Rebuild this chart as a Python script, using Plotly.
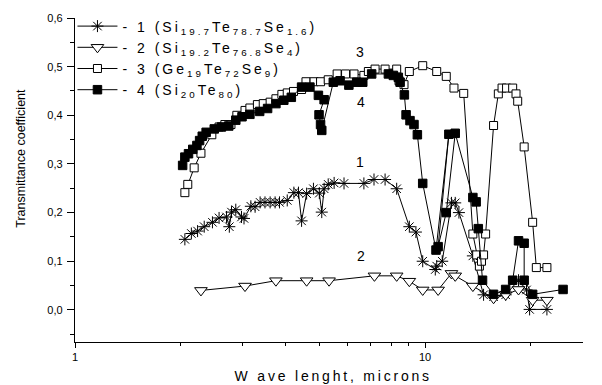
import numpy as np
import plotly.graph_objects as go

# ---- data ----
s1_x = [2.06, 2.15, 2.24, 2.34, 2.47, 2.58, 2.71, 2.76, 2.80, 2.88, 2.99, 3.04, 3.18, 3.27,
        3.38, 3.49, 3.61, 3.73, 3.84, 4.04, 4.22, 4.35, 4.44, 4.59, 4.80, 4.99, 5.07, 5.15,
        5.29, 5.50, 5.87, 6.69, 7.15, 7.69, 8.30, 9.02, 9.42, 9.85, 10.7, 10.8, 11.2, 11.9,
        12.2, 12.5, 13.7, 14.7, 15.7, 17.0, 18.5, 19.5, 19.9, 22.3]
s1_y = [0.145, 0.157, 0.162, 0.171, 0.180, 0.189, 0.191, 0.171, 0.201, 0.206, 0.191, 0.188, 0.213, 0.212,
        0.221, 0.221, 0.221, 0.221, 0.221, 0.225, 0.241, 0.241, 0.183, 0.239, 0.249, 0.240, 0.201, 0.249,
        0.258, 0.261, 0.260, 0.260, 0.268, 0.268, 0.249, 0.171, 0.160, 0.100, 0.083, 0.090, 0.100, 0.220,
        0.220, 0.200, 0.111, 0.031, 0.027, 0.031, 0.061, 0.041, 0.001, 0.001]

s2_x = [2.29, 3.06, 3.75, 4.59, 5.32, 7.17, 8.30, 9.02, 9.85, 10.9, 11.9, 12.2, 13.7, 15.7,
        17.0, 18.5, 20.3, 22.3]
s2_y = [0.040, 0.049, 0.060, 0.060, 0.060, 0.070, 0.070, 0.059, 0.041, 0.041, 0.075, 0.070, 0.049, 0.024,
        0.031, 0.042, 0.020, 0.020]

s3_x = [2.06, 2.10, 2.19, 2.29, 2.46, 2.58, 2.68, 2.79, 2.90, 3.06, 3.16, 3.32, 3.45, 3.61,
        3.75, 3.90, 4.04, 4.21, 4.44, 4.57, 4.82, 5.03, 5.29, 5.61, 5.93, 6.27, 6.69, 6.89,
        7.20, 7.69, 8.30, 8.43, 8.71, 9.02, 9.85, 10.8, 11.5, 12.1, 12.9, 13.7, 14.05, 14.3,
        14.5, 14.7, 14.9, 15.7, 16.2, 16.6, 17.1, 17.8, 18.2, 18.4, 19.2, 20.3, 20.8, 22.3]
s3_y = [0.241, 0.258, 0.292, 0.322, 0.360, 0.376, 0.381, 0.381, 0.400, 0.410, 0.415, 0.422, 0.424, 0.427,
        0.434, 0.443, 0.446, 0.449, 0.453, 0.469, 0.469, 0.469, 0.473, 0.485, 0.485, 0.485, 0.482, 0.490,
        0.495, 0.495, 0.495, 0.471, 0.463, 0.490, 0.502, 0.490, 0.480, 0.456, 0.445, 0.156, 0.113, 0.090,
        0.100, 0.113, 0.156, 0.379, 0.444, 0.456, 0.456, 0.456, 0.444, 0.429, 0.335, 0.180, 0.087, 0.087]

s4_x = [2.03, 2.06, 2.11, 2.17, 2.23, 2.27, 2.31, 2.37, 2.50, 2.62, 2.75, 2.88, 3.00, 3.16,
        3.37, 3.55, 3.75, 3.95, 4.15, 4.44, 4.69, 4.96, 5.15, 4.98, 5.03, 5.07, 5.47, 5.72,
        6.06, 6.38, 6.64, 7.04, 7.86, 8.12, 8.39, 8.49, 8.73, 8.83, 9.06, 9.30, 9.51, 9.85,
        10.75, 11.7, 10.9, 11.5, 12.2, 13.7, 14.0, 14.2, 14.6, 15.7, 17.0, 17.8, 18.5, 19.2,
        19.2, 20.3, 24.8]
s4_y = [0.297, 0.314, 0.321, 0.330, 0.338, 0.348, 0.357, 0.365, 0.372, 0.376, 0.378, 0.390, 0.397, 0.402,
        0.408, 0.414, 0.424, 0.431, 0.437, 0.458, 0.458, 0.441, 0.432, 0.401, 0.381, 0.369, 0.468, 0.471,
        0.462, 0.468, 0.468, 0.485, 0.485, 0.482, 0.478, 0.468, 0.442, 0.401, 0.389, 0.381, 0.360, 0.260,
        0.123, 0.361, 0.130, 0.200, 0.363, 0.231, 0.222, 0.167, 0.061, 0.032, 0.042, 0.061, 0.142, 0.137,
        0.061, 0.032, 0.042]

names = ["- 1 (Si<sub>19.7</sub>Te<sub>78.7</sub>Se<sub>1.6</sub>)",
         "- 2 (Si<sub>19.2</sub>Te<sub>76.8</sub>Se<sub>4</sub>)",
         "- 3 (Ge<sub>19</sub>Te<sub>72</sub>Se<sub>9</sub>)",
         "- 4 (Si<sub>20</sub>Te<sub>80</sub>)"]

curve_labels = ["3", "4", "1", "2"]
label_x = [6.5, 6.55, 6.5, 6.55]
label_y = [0.531, 0.428, 0.303, 0.111]

x_tick_vals = [1, 10]
x_minor_vals = [2, 3, 4, 5, 6, 7, 8, 9, 20]

FONT = "Liberation Sans, Arial, sans-serif"
NARROW = "Liberation Sans Narrow, Arial Narrow, Liberation Sans, sans-serif"

fig = go.Figure()
fig.add_trace(go.Scatter(x=s1_x, y=s1_y, name=names[0], mode="lines+markers",
                         line=dict(color="black", width=1),
                         marker=dict(symbol="asterisk-open", size=10, color="black",
                                     line=dict(color="black", width=1))))
fig.add_trace(go.Scatter(x=s2_x, y=s2_y, name=names[1], mode="lines+markers",
                         line=dict(color="black", width=1),
                         marker=dict(symbol="triangle-down", size=11, color="white",
                                     line=dict(color="black", width=1))))
fig.add_trace(go.Scatter(x=s3_x, y=s3_y, name=names[2], mode="lines+markers",
                         line=dict(color="black", width=1),
                         marker=dict(symbol="square", size=8, color="white",
                                     line=dict(color="black", width=1))))
fig.add_trace(go.Scatter(x=s4_x, y=s4_y, name=names[3], mode="lines+markers",
                         line=dict(color="black", width=1),
                         marker=dict(symbol="square", size=8.5, color="black",
                                     line=dict(color="black", width=1))))

for t, lx, ly in zip(curve_labels, label_x, label_y):
    fig.add_annotation(x=np.log10(lx), y=ly, xref="x", yref="y", text=t, showarrow=False,
                       font=dict(family=FONT, size=14, color="black"))

fig.add_annotation(text="Transmittance coefficient", textangle=-90, xref="paper", yref="paper",
                   x=-0.108, y=0.566, showarrow=False, xanchor="center", yanchor="middle",
                   font=dict(family=NARROW, size=12.5, color="black"))
fig.add_annotation(text="W ave lenght, microns", xref="paper", yref="paper",
                   x=0.508, y=-0.105, showarrow=False, xanchor="center", yanchor="middle",
                   font=dict(family=FONT, size=14, color="black"))

fig.update_layout(
    width=602, height=385,
    margin=dict(l=75, r=19, t=17, b=43),
    paper_bgcolor="white", plot_bgcolor="white",
    separators=",.",
    font=dict(family=FONT, color="black", size=11),
    showlegend=True,
    legend=dict(x=-0.005, y=1.02, xanchor="left", yanchor="top", bgcolor="rgba(0,0,0,0)",
                font=dict(family=FONT, size=14, color="black"), tracegroupgap=0,
                itemwidth=40),
    xaxis=dict(type="log", range=[0, 1.4514], showline=True, linecolor="black", linewidth=1.3,
               ticks="outside", ticklen=5, tickcolor="black", tickvals=x_tick_vals,
               ticktext=[str(v) for v in x_tick_vals], showgrid=False, zeroline=False,
               minor=dict(ticks="outside", ticklen=3, tickcolor="black", tickvals=x_minor_vals,
                          showgrid=False),
               tickfont=dict(size=11)),
    yaxis=dict(range=[-0.066, 0.6], showline=True, linecolor="black", linewidth=1.3,
               ticks="outside", ticklen=7, tickcolor="black", tick0=0, dtick=0.1,
               tickformat=".1f", showgrid=False, zeroline=False, ticklabelstandoff=2,
               minor=dict(ticks="outside", ticklen=4, tickcolor="black", dtick=0.05, showgrid=False),
               tickfont=dict(size=11)),
)

post = """
var gd = document.getElementById('{plot_id}');
gd.querySelectorAll('.legend .scrollbox').forEach(function(e){ e.removeAttribute('clip-path'); });
gd.querySelectorAll('.legend').forEach(function(e){ e.removeAttribute('clip-path'); });
gd.querySelectorAll('.legendtext').forEach(function(e){ e.style.letterSpacing = '3px'; });
gd.querySelectorAll('.annotation-text').forEach(function(e){
  if (e.textContent.indexOf('microns') >= 0) { e.style.letterSpacing = '2.8px'; }
});
"""

fig.write_html("out.html", post_script=post)
